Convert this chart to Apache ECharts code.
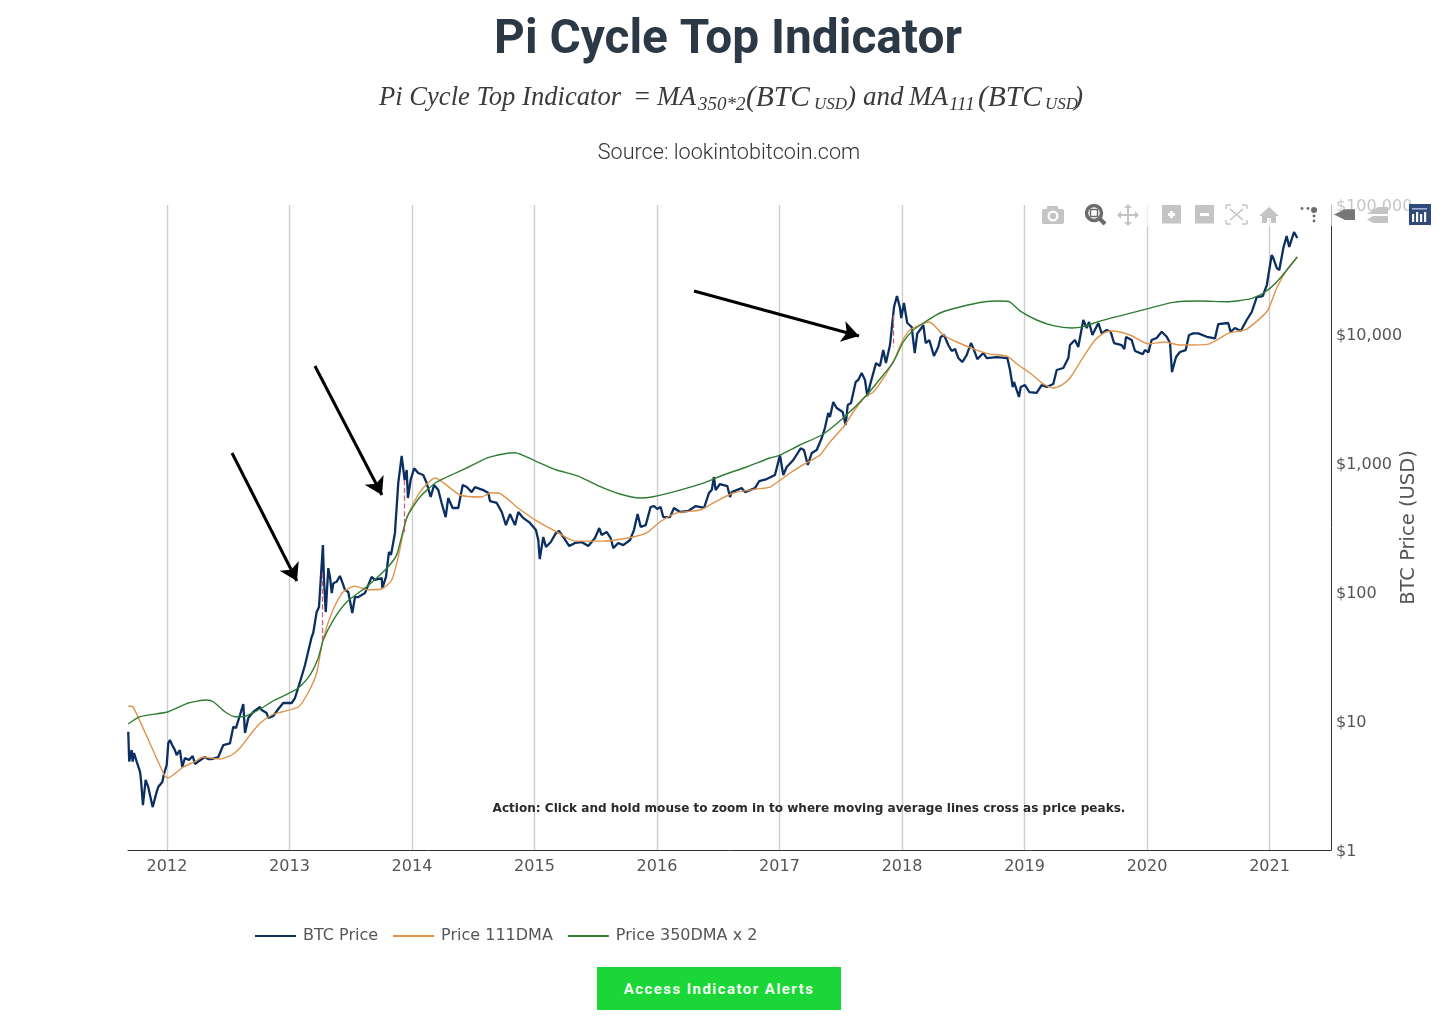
<!DOCTYPE html>
<html><head><meta charset="utf-8">
<style>html,body{margin:0;padding:0;background:#fff}#c{width:1456px;height:1020px}
#b{position:absolute;left:597px;top:967px;width:244px;height:43px;line-height:45px;background:#1ad636;color:#f4fff4;font:bold 15px/45px Roboto;letter-spacing:1.45px;text-align:center}</style>
<script src="https://cdn.jsdelivr.net/npm/echarts@6/dist/echarts.min.js"></script>
</head><body><div id="c"></div><div id="b">Access Indicator Alerts</div>
<script>
const yearTicks=[2012,2013,2014,2015,2016,2017,2018,2019,2020,2021];
const btcPrice=[[2011.684,8.25],[2011.692,4.85],[2011.712,5.95],[2011.72,4.85],[2011.731,5.65],[2011.753,4.85],[2011.78,4.05],[2011.788,3.49],[2011.804,2.23],[2011.826,3.49],[2011.847,3.08],[2011.861,3.19],[2011.883,2.15],[2011.916,2.82],[2011.929,3.08],[2011.943,3.13],[2011.962,3.37],[2011.978,3.95],[2011.998,4.56],[2012.011,6.75],[2012.024,7.12],[2012.043,6.51],[2012.065,5.95],[2012.079,5.45],[2012.106,5.95],[2012.125,4.4],[2012.147,5.17],[2012.18,4.98],[2012.21,5.35],[2012.229,4.64],[2012.256,4.85],[2012.31,5.26],[2012.337,5.07],[2012.365,5.07],[2012.419,5.26],[2012.46,6.51],[2012.514,6.7],[2012.541,9],[2012.563,8.82],[2012.596,11.13],[2012.623,13.54],[2012.637,8.07],[2012.664,10.55],[2012.704,11.74],[2012.759,12.84],[2012.773,12.17],[2012.814,11.53],[2012.827,10.55],[2012.868,10.93],[2012.909,12.39],[2012.949,13.79],[2013.018,13.79],[2013.045,15.07],[2013.086,20.05],[2013.127,27.17],[2013.181,44.8],[2013.194,48.1],[2013.222,69.9],[2013.241,76.5],[2013.273,231],[2013.282,124],[2013.296,69.9],[2013.317,153],[2013.331,131],[2013.345,98],[2013.358,117],[2013.385,120],[2013.412,133],[2013.434,117],[2013.453,104],[2013.48,100],[2013.513,68.7],[2013.535,91.4],[2013.562,91.4],[2013.616,98],[2013.671,131],[2013.698,124],[2013.753,128],[2013.758,107],[2013.788,131],[2013.812,204],[2013.829,194],[2013.861,287],[2013.888,699],[2013.916,1133],[2013.929,1120],[2013.94,738],[2013.957,882],[2013.967,535],[2013.989,738],[2014.018,910],[2014.051,836],[2014.092,807],[2014.12,699],[2014.153,545],[2014.18,675],[2014.215,617],[2014.242,490],[2014.275,381],[2014.296,535],[2014.332,448],[2014.378,448],[2014.414,675],[2014.447,651],[2014.487,595],[2014.514,651],[2014.582,617],[2014.623,585],[2014.637,507],[2014.692,490],[2014.733,417],[2014.767,330],[2014.8,402],[2014.841,330],[2014.868,417],[2014.908,375],[2014.963,343],[2015.012,302],[2015.031,253],[2015.043,180],[2015.072,267],[2015.094,223],[2015.133,244],[2015.176,287],[2015.2,297],[2015.235,267],[2015.284,227],[2015.331,240],[2015.385,244],[2015.439,227],[2015.494,262],[2015.529,313],[2015.548,277],[2015.589,292],[2015.622,262],[2015.643,219],[2015.684,240],[2015.725,231],[2015.78,253],[2015.812,302],[2015.842,402],[2015.867,319],[2015.908,330],[2015.948,456],[2015.976,464],[2016.002,440],[2016.03,456],[2016.051,381],[2016.106,381],[2016.139,448],[2016.188,417],[2016.256,425],[2016.316,464],[2016.384,448],[2016.424,585],[2016.447,617],[2016.465,778],[2016.479,617],[2016.514,687],[2016.574,663],[2016.596,545],[2016.61,595],[2016.691,639],[2016.718,595],[2016.8,639],[2016.835,725],[2016.896,751],[2016.963,807],[2017.004,1150],[2017.031,807],[2017.059,931],[2017.113,1055],[2017.173,1300],[2017.2,1261],[2017.231,965],[2017.263,1195],[2017.304,1261],[2017.345,1562],[2017.371,1867],[2017.398,2440],[2017.412,2272],[2017.439,2970],[2017.467,2668],[2017.516,2484],[2017.54,1970],[2017.557,2815],[2017.584,2918],[2017.622,4250],[2017.643,4400],[2017.671,4980],[2017.698,4400],[2017.717,3300],[2017.739,4020],[2017.788,5950],[2017.82,5650],[2017.847,7510],[2017.869,5950],[2017.902,8210],[2017.935,16190],[2017.959,19700],[2017.984,15900],[2017.994,13300],[2018.016,17390],[2018.043,12170],[2018.079,11330],[2018.104,7120],[2018.125,10100],[2018.147,10740],[2018.174,11740],[2018.194,8510],[2018.223,8980],[2018.261,6750],[2018.296,7920],[2018.316,9480],[2018.343,9820],[2018.378,8210],[2018.406,7380],[2018.433,7650],[2018.46,6510],[2018.492,6060],[2018.528,6870],[2018.563,8510],[2018.582,7780],[2018.615,6390],[2018.664,7120],[2018.692,6510],[2018.773,6630],[2018.86,6510],[2018.882,5260],[2018.904,3880],[2018.914,4250],[2018.955,3250],[2018.969,3880],[2019.004,4020],[2019.039,3550],[2019.099,3490],[2019.14,4020],[2019.181,3880],[2019.235,4100],[2019.263,5260],[2019.317,5450],[2019.358,6510],[2019.371,8210],[2019.412,8980],[2019.439,7920],[2019.48,12840],[2019.508,11130],[2019.527,12390],[2019.554,9820],[2019.603,12170],[2019.63,10100],[2019.671,10740],[2019.704,10400],[2019.731,8510],[2019.793,8210],[2019.815,7650],[2019.829,9480],[2019.875,8980],[2019.902,7380],[2019.965,6990],[2019.984,7510],[2020.011,7200],[2020.038,8980],[2020.079,9310],[2020.12,10400],[2020.161,9520],[2020.188,8510],[2020.204,5070],[2020.237,6630],[2020.269,7250],[2020.316,7510],[2020.343,9820],[2020.378,10100],[2020.419,10100],[2020.488,9520],[2020.555,9250],[2020.582,11950],[2020.663,12170],[2020.682,10400],[2020.718,11130],[2020.765,10560],[2020.814,12840],[2020.855,14810],[2020.896,19350],[2020.945,19700],[2020.978,23970],[2021.018,41000],[2021.031,38800],[2021.059,32500],[2021.08,31300],[2021.113,46400],[2021.14,57500],[2021.161,47300],[2021.2,61700],[2021.227,55500]];
const ma111=[[2011.684,13.07],[2011.725,12.8],[2011.978,3.81],[2012.006,3.62],[2012.133,4.4],[2012.229,4.85],[2012.296,5.26],[2012.351,5.17],[2012.433,5.07],[2012.528,5.45],[2012.596,6.17],[2012.678,7.78],[2012.759,9.6],[2012.855,11.13],[2012.936,11.74],[2013.072,12.84],[2013.151,16.48],[2013.222,23.55],[2013.273,42.5],[2013.355,72.5],[2013.437,100],[2013.535,111],[2013.641,104],[2013.753,105.5],[2013.835,124],[2013.888,187],[2013.957,375],[2014.065,595],[2014.188,765],[2014.392,565],[2014.569,545],[2014.637,585],[2014.704,585],[2014.855,456],[2015.004,362],[2015.181,292],[2015.331,248],[2015.453,248],[2015.559,248],[2015.763,262],[2015.916,287],[2016.024,349],[2016.161,410],[2016.351,432],[2016.46,490],[2016.623,585],[2016.814,628],[2016.922,651],[2017.012,745],[2017.086,836],[2017.222,1005],[2017.331,1153],[2017.412,1455],[2017.535,1970],[2017.602,2484],[2017.698,3250],[2017.766,3550],[2017.875,4980],[2017.943,6510],[2017.998,8670],[2018.065,10740],[2018.223,12390],[2018.337,9820],[2018.447,8670],[2018.61,7510],[2018.718,6990],[2018.855,6750],[2018.949,5750],[2019.045,4980],[2019.153,4100],[2019.235,3810],[2019.304,4020],[2019.371,4560],[2019.48,6630],[2019.576,8980],[2019.657,10300],[2019.725,10560],[2019.861,9820],[2020.011,8400],[2020.147,8670],[2020.269,8210],[2020.5,8350],[2020.663,10100],[2020.814,10930],[2020.982,15070],[2021.059,22720],[2021.14,31300],[2021.227,39500]];
const ma350x2=[[2011.684,9.48],[2011.78,10.8],[2012.011,11.8],[2012.174,13.8],[2012.324,14.55],[2012.378,14.1],[2012.473,11.8],[2012.555,10.8],[2012.623,10.8],[2012.745,12.17],[2012.882,14.55],[2013.018,16.8],[2013.072,18],[2013.167,22.7],[2013.235,30.8],[2013.276,42.5],[2013.358,60.6],[2013.467,83.6],[2013.63,110],[2013.794,153],[2013.875,194],[2013.957,375],[2014.065,545],[2014.202,712],[2014.447,915],[2014.61,1090],[2014.745,1174],[2014.841,1200],[2015.004,1040],[2015.181,882],[2015.357,792],[2015.508,675],[2015.698,575],[2015.861,535],[2015.957,545],[2016.188,617],[2016.378,699],[2016.541,807],[2016.732,931],[2016.922,1093],[2017.004,1153],[2017.167,1379],[2017.345,1648],[2017.52,2232],[2017.712,3370],[2017.847,4810],[2017.929,6060],[2018.011,8670],[2018.092,10740],[2018.188,12390],[2018.31,14550],[2018.473,16200],[2018.664,17700],[2018.8,18000],[2018.882,17700],[2018.963,15100],[2019.099,12840],[2019.235,11600],[2019.385,11130],[2019.48,11400],[2019.616,12600],[2019.888,14700],[2020.214,17600],[2020.433,18000],[2020.651,17800],[2020.841,18700],[2020.951,20800],[2021.059,25300],[2021.227,39500]];
const crossings=[[[2013.265,140],[2013.265,40.2]],[[2013.935,738],[2013.935,287]],[[2017.927,14040],[2017.927,7920]]];
const arrows=[[[2012.531,1195],[2013.061,121.7]],[[2013.208,5650],[2013.755,565]],[[2016.302,21540],[2017.649,9650]]];
const seriesNames=['BTC Price','Price 111DMA','Price 350DMA x 2'];
const fmt=v=>'{v|$'+Number(v).toLocaleString('en-US')+'}';
const serif='"Liberation Serif"', ink='#3a3a3a';
const ft=(x,y,t,s)=>({type:'text',x,y,z:50,style:{text:t,fontFamily:serif,fontStyle:'italic',fontSize:s,fill:ink,textVerticalAlign:'middle'}});
const icon='#c4c4c4',dark='#6b6b6b';
const R=(x,y,w,h,c)=>({type:'rect',z:101,shape:{x,y,width:w,height:h},style:{fill:c}});
const L=(a,b,c,d,col,w)=>({type:'line',z:101,shape:{x1:a,y1:b,x2:c,y2:d},style:{stroke:col,lineWidth:w}});
const P=(pts,c)=>({type:'polygon',z:101,shape:{points:pts},style:{fill:c}});
const C=(x,y,r,f,s,w)=>({type:'circle',z:101,shape:{cx:x,cy:y,r},style:{fill:f,stroke:s||null,lineWidth:w||0}});
const modebar=[
 R(1040,190,392,36,'rgba(255,255,255,0.66)'),
 {type:'rect',z:101,shape:{x:1042,y:209,width:22,height:15,r:2},style:{fill:icon}},R(1047,206,11,4,icon),C(1053,216,5.5,'#fff'),C(1053,216,3.2,icon),
 C(1094,213,7.5,'#fff',dark,3.5),{type:'rect',z:102,shape:{x:1090.5,y:209.5,width:7,height:7},style:{fill:'none',stroke:dark,lineWidth:1.5}},L(1100,219,1105,224,dark,4),
 L(1118,215,1138,215,icon,2),L(1128,205,1128,225,icon,2),P([[1124,208],[1132,208],[1128,204]],icon),P([[1124,222],[1132,222],[1128,226]],icon),P([[1121,211],[1121,219],[1117,215]],icon),P([[1135,211],[1135,219],[1139,215]],icon),
 R(1162,205,19,18.5,icon),R(1168,213,7,3,'#fff'),R(1170,211,3,7,'#fff'),
 R(1195,205,19,18.5,icon),R(1200,213,9,3,'#fff'),
 L(1226,209,1226,205,icon,1.5),L(1226,205,1231,205,icon,1.5),L(1247,209,1247,205,icon,1.5),L(1247,205,1242,205,icon,1.5),L(1226,220,1226,224,icon,1.5),L(1226,224,1231,224,icon,1.5),L(1247,220,1247,224,icon,1.5),L(1247,224,1242,224,icon,1.5),L(1230,209,1243,220,icon,1.6),L(1243,209,1230,220,icon,1.6),
 P([[1259,216],[1269,207],[1279,216],[1276,216],[1276,223],[1271,223],[1271,218],[1267,218],[1267,223],[1262,223],[1262,216]],icon),
 C(1302,208.5,1.4,dark),C(1308,208.5,1.4,dark),C(1314,210,3,dark),C(1314,216,1.4,dark),C(1314,221,1.4,dark),
 P([[1334,214.5],[1345,209.3],[1355,209.3],[1355,220],[1345,220]],'#777'),
 P([[1367,214],[1378,207],[1388,207],[1388,214]],icon),P([[1367,219.5],[1373,216],[1388,216],[1388,223],[1373,223]],icon),
 R(1409,204,22,21,'#2f4a7a'),R(1412,214,2.2,8,'#fff'),R(1416,212,2.2,10,'#fff'),R(1420,214,2.2,8,'#fff'),R(1424,212,2.2,10,'#fff'),R(1412,208,15,1.6,'#9db0cc')
];
const chart=echarts.init(document.getElementById('c'));
chart.setOption({
 animation:false,backgroundColor:'#fff',
 title:{text:'Pi Cycle Top Indicator',left:'center',top:12,textStyle:{fontFamily:'Roboto',fontWeight:'bold',fontSize:47.8,color:'#2b3845'}},
 legend:{data:seriesNames,left:255,top:928,padding:0,icon:'rect',itemWidth:41,itemHeight:2,itemGap:15,textStyle:{fontFamily:'DejaVu Sans',fontSize:16,color:'#555',padding:[0,0,0,2]}},
 grid:{left:128,right:125,top:205,bottom:170},
 xAxis:{type:'value',min:2011.682,max:2021.502,
  axisLine:{show:true,onZero:false,lineStyle:{color:'#333',width:1}},
  axisTick:{show:false,customValues:yearTicks},
  axisLabel:{customValues:yearTicks,fontFamily:'DejaVu Sans',fontSize:16,color:'#555',margin:9,formatter:v=>String(v)},
  splitLine:{show:true,lineStyle:{color:'#cdcdcd',width:1.4}}},
 yAxis:{type:'log',logBase:10,min:1,max:100000,position:'right',
  name:'BTC Price (USD)',nameLocation:'middle',nameGap:68,nameRotate:90,nameMoveOverlap:false,nameTextStyle:{fontFamily:'DejaVu Sans',fontSize:19.5,color:'#555'},
  axisLine:{show:true,lineStyle:{color:'#333',width:1}},axisTick:{show:false},splitLine:{show:false},
  axisLabel:{fontFamily:'DejaVu Sans',fontSize:16,color:'#555',margin:5,formatter:fmt,rich:{v:{fontFamily:'DejaVu Sans',fontSize:16,color:'#555',padding:[4,0,0,0]}}}},
 series:[
  {name:seriesNames[0],type:'line',data:btcPrice,symbol:'none',lineStyle:{color:'#0b2f60',width:2.3},itemStyle:{color:'#0b2f60'},z:3},
  {name:seriesNames[1],type:'line',data:ma111,symbol:'none',smooth:0.2,lineStyle:{color:'#e0934a',width:1.4},itemStyle:{color:'#e0934a'},z:4},
  {name:seriesNames[2],type:'line',data:ma350x2,symbol:'none',smooth:0.2,lineStyle:{color:'#2f7d32',width:1.4},itemStyle:{color:'#2f7d32'},z:4},
  {name:'crossings',type:'line',data:[],symbol:'none',z:2,markLine:{silent:true,animation:false,symbol:'none',label:{show:false},lineStyle:{color:'#d0607a',type:'dashed',width:1.3},data:crossings.map(c=>[{coord:c[0]},{coord:c[1]}])}},
  {name:'arrows',type:'line',data:[],symbol:'none',z:6,markLine:{silent:true,animation:false,symbol:['none','arrow'],symbolSize:[16,17],label:{show:false},lineStyle:{color:'#000',type:'solid',width:3},data:arrows.map(c=>[{coord:c[0]},{coord:c[1]}])}}
 ],
 graphic:[
  ft(379,98,'Pi Cycle Top Indicator',26.6),ft(633,98,'=',27),ft(657,98,'MA',27),ft(698,105,'350*2',19),ft(746,98,'(BTC',29.5),ft(814,105,'USD',17),ft(847,98,')',27),ft(863,98,'and',27),ft(909,98,'MA',27),ft(949,105,'111',19),ft(978,98,'(BTC',29.5),ft(1045,105,'USD',17),ft(1074,98,')',27),
  {type:'text',x:729,y:154,z:50,style:{text:'Source: lookintobitcoin.com',fontFamily:'Roboto',fontWeight:300,fontSize:21.6,fill:'#333',textAlign:'center',textVerticalAlign:'middle'}},
  {type:'text',x:809,y:808.5,z:50,style:{text:'Action: Click and hold mouse to zoom in to where moving average lines cross as price peaks.',fontFamily:'DejaVu Sans',fontWeight:'bold',fontSize:12.05,fill:'#2a2a2a',textAlign:'center',textVerticalAlign:'middle'}},
  ...modebar
 ]
});
</script></body></html>
